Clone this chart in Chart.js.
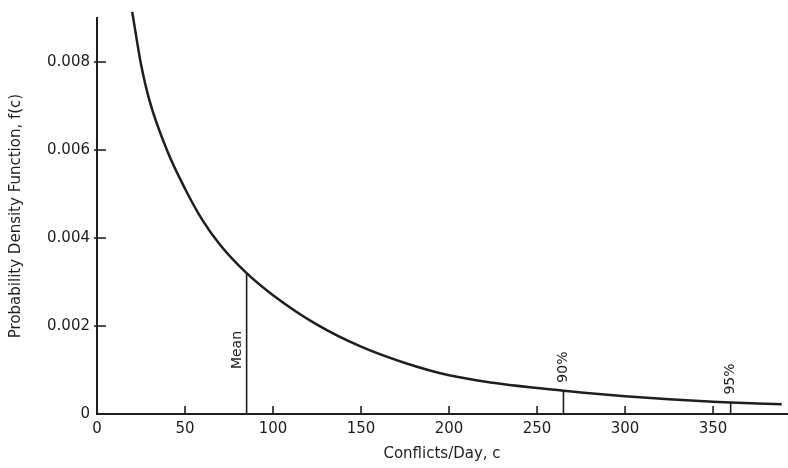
<!DOCTYPE html>
<html>
<head>
<meta charset="utf-8">
<script src="https://cdn.jsdelivr.net/npm/chart.js@4/dist/chart.umd.min.js"></script>
<style>
  body { margin: 0; background: #fff; }
  #wrap { width: 788px; height: 468px; }
</style>
</head>
<body>
<div id="wrap"><canvas id="pdf"></canvas></div>
<script>
// conflicts per day and the density
const conflicts = [20, 25, 30, 40, 50, 60, 70, 85, 100, 125, 150, 175, 200, 225, 250, 265, 275, 300, 325, 350, 360, 375, 389];
const density = [0.00914, 0.00795, 0.0071, 0.00597, 0.00512, 0.0044, 0.00384, 0.0032, 0.0027, 0.00203, 0.00153, 0.00116, 0.00088, 0.00071, 0.00059, 0.00053, 0.00049, 0.000404, 0.000334, 0.000279, 0.00026, 0.000239, 0.000221];

// vertical markers: mean, 90th and 95th percentile
const markerLabels = ['Mean', '90%', '95%'];
const markerAt = [85, 265, 360];
const markerHeight = [0.0032, 0.00053, 0.00026];

const xTicks = [0, 50, 100, 150, 200, 250, 300, 350];
const yTicks = [0, 0.002, 0.004, 0.006, 0.008];

const ink = '#1e1e1e';
const font = 'DejaVu Sans';

const curve = conflicts.map((c, i) => ({ x: c, y: density[i] }));
const markerSets = markerAt.map((c, i) => ({
  data: [{ x: c, y: 0 }, { x: c, y: markerHeight[i] }],
  borderColor: ink,
  borderWidth: 1.6,
  pointRadius: 0,
  showLine: true
}));

// short inward tick marks and the rotated marker captions
const innerTicks = {
  id: 'innerTicks',
  afterDraw(chart) {
    const { ctx, chartArea, scales } = chart;
    ctx.save();
    ctx.strokeStyle = ink;
    ctx.lineWidth = 1.6;
    xTicks.forEach(v => {
      if (v === 0) return;
      const px = scales.x.getPixelForValue(v);
      ctx.beginPath();
      ctx.moveTo(px, chartArea.bottom);
      ctx.lineTo(px, chartArea.bottom - 8);
      ctx.stroke();
    });
    yTicks.forEach(v => {
      if (v === 0) return;
      const py = scales.y.getPixelForValue(v);
      ctx.beginPath();
      ctx.moveTo(chartArea.left - 3, py);
      ctx.lineTo(chartArea.left + 9, py);
      ctx.stroke();
    });

    ctx.fillStyle = ink;
    ctx.font = '14px "' + font + '"';
    markerLabels.forEach((txt, i) => {
      const px = scales.x.getPixelForValue(markerAt[i]);
      const top = scales.y.getPixelForValue(markerHeight[i]);
      ctx.save();
      if (i === 0) {
        // mean caption sits beside its line, low down
        ctx.translate(px - 9, scales.y.getPixelForValue(0) - 64);
        ctx.rotate(-Math.PI / 2);
        ctx.textAlign = 'center';
        ctx.textBaseline = 'middle';
      } else {
        ctx.translate(px, top - 8);
        ctx.rotate(-Math.PI / 2);
        ctx.textAlign = 'left';
        ctx.textBaseline = 'middle';
      }
      ctx.fillText(txt, 0, 0);
      ctx.restore();
    });
    ctx.restore();
  }
};

new Chart(document.getElementById('pdf'), {
  type: 'scatter',
  data: {
    datasets: [{
      data: curve,
      borderColor: ink,
      borderWidth: 2.5,
      pointRadius: 0,
      showLine: true,
      cubicInterpolationMode: 'monotone',
      clip: false
    }, ...markerSets]
  },
  options: {
    responsive: true,
    maintainAspectRatio: false,
    animation: false,
    layout: { padding: { top: 18, right: 1, left: 0, bottom: 0 } },
    plugins: {
      legend: { display: false },
      tooltip: { enabled: false }
    },
    scales: {
      x: {
        type: 'linear',
        min: 0,
        max: 392,
        afterBuildTicks: s => { s.ticks = xTicks.map(v => ({ value: v })); },
        afterFit: s => { s.height = 54; },
        grid: { drawOnChartArea: false, drawTicks: false },
        border: { color: ink, width: 2 },
        ticks: { color: ink, padding: 6, font: { family: font, size: 15 } },
        title: {
          display: true,
          text: 'Conflicts/Day, c',
          color: ink,
          padding: { top: 0, bottom: 5 },
          font: { family: font, size: 15 }
        }
      },
      y: {
        min: 0,
        max: 0.009,
        afterBuildTicks: s => { s.ticks = yTicks.map(v => ({ value: v })); },
        afterFit: s => { s.width = 97; },
        grid: { drawOnChartArea: false, drawTicks: false },
        border: { color: ink, width: 2 },
        ticks: {
          color: ink,
          padding: 7,
          font: { family: font, size: 15 },
          callback: v => (v === 0 ? '0' : v.toFixed(3))
        },
        title: {
          display: true,
          text: 'Probability Density Function, f(c)',
          color: ink,
          padding: { top: 7, bottom: 0 },
          font: { family: font, size: 15 }
        }
      }
    }
  },
  plugins: [innerTicks]
});
</script>
</body>
</html>
